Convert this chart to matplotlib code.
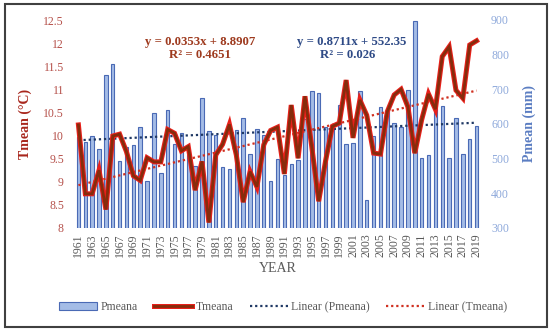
import numpy as np
import matplotlib
matplotlib.use("Agg")
import matplotlib.pyplot as plt
import matplotlib.patheffects as pe
from matplotlib.patches import Rectangle

plt.rcParams['font.family'] = ['Liberation Serif', 'DejaVu Serif']

# data
years = list(range(1961, 2020))
pmean = [563, 549, 565, 527, 740, 773, 494, 535, 539, 592,
         435, 633, 458, 640, 543, 574, 510, 480, 674, 581,
         567, 477, 469, 583, 616, 513, 586, 568, 437, 499,
         452, 485, 497, 615, 696, 689, 590, 597, 655, 542,
         546, 694, 381, 565, 648, 640, 602, 592, 698, 898,
         501, 512, 645, 652, 502, 617, 513, 556, 594]
tmean = [10.23, 8.74, 8.74, 9.25, 8.40, 9.99, 10.03, 9.65, 9.13, 9.03,
         9.52, 9.43, 9.43, 10.13, 10.05, 9.67, 9.76, 8.82, 9.44, 8.12,
         9.58, 9.81, 10.24, 9.58, 8.56, 9.22, 8.89, 9.80, 10.11, 10.18,
         9.17, 10.66, 9.51, 10.85, 9.75, 8.58, 9.45, 10.20, 10.27, 11.20,
         9.95, 10.77, 10.44, 9.62, 9.60, 10.52, 10.88, 11.00, 10.62, 9.62,
         10.34, 10.90, 10.57, 11.71, 11.92, 10.98, 10.81, 11.96, 12.05]

# trendline coefficients as printed on the chart
p_slope, p_icpt = 0.8711, 552.35
t_slope, t_icpt = 0.0353, 8.8907
eq_p = ["y = 0.8711x + 552.35", "R² = 0.026"]
eq_t = ["y = 0.0353x + 8.8907", "R² = 0.4651"]

t_ticks = [8, 8.5, 9, 9.5, 10, 10.5, 11, 11.5, 12, 12.5]
p_ticks = [300, 400, 500, 600, 700, 800, 900]

fig = plt.figure(figsize=(5.5, 3.33), dpi=100)
ax = fig.add_axes([75/550, 105/333, 405/550, 208/333])
axp = ax.twinx()
ax.set_zorder(axp.get_zorder() + 1)
ax.patch.set_visible(False)

idx = np.arange(1, len(years) + 1)

bars = axp.bar(years, pmean, width=0.5, color='#A4BCE6', edgecolor='#4A6AB5',
               linewidth=0.8, label='Pmeana', zorder=2)
ptrend, = axp.plot(years, p_slope * idx + p_icpt, color='#1F3864', lw=1.6,
                   ls=(0, (1, 1.3)), label='Linear (Pmeana)', zorder=3)

tline, = ax.plot(years, tmean, color='#862C0C', lw=2.0, solid_joinstyle='miter',
                 path_effects=[pe.Stroke(linewidth=3.6, foreground='#E8201A'), pe.Normal()],
                 label='Tmeana', zorder=3)
ttrend, = ax.plot(years, t_slope * idx + t_icpt, color='#D03020', lw=1.6,
                  ls=(0, (1, 1.3)), label='Linear (Tmeana)', zorder=2)

ax.set_xlim(1960.5, 2019.5)
ax.set_ylim(8, 12.5)
axp.set_ylim(300, 900)
ax.set_yticks(t_ticks)
ax.set_yticklabels([f"{v:g}" for v in t_ticks])
axp.set_yticks(p_ticks)
ax.set_xticks(years[::2])
ax.set_xticklabels([str(y) for y in years[::2]], rotation=90)

for a in (ax, axp):
    for s in a.spines.values():
        s.set_visible(False)
ax.tick_params(axis='x', length=0, pad=4, labelsize=8.5, labelcolor='#595959')
ax.tick_params(axis='y', length=0, pad=8, labelsize=8.5, labelcolor='#B5504A')
axp.tick_params(axis='y', length=0, pad=8, labelsize=8.5, labelcolor='#8EA9DB')

ax.set_ylabel('Tmean (°C)', fontsize=10, fontweight='bold', color='#A8261C')
ax.yaxis.set_label_coords(-0.106, 0.5)
axp.set_ylabel('Pmean (mm)', fontsize=10, fontweight='bold', color='#5B7DC2')
axp.yaxis.set_label_coords(1.104, 0.5)
ax.set_xlabel('YEAR', fontsize=10, color='#595959', va='center')
ax.xaxis.set_label_coords(0.5, -0.197)

fig.text(200/550, 1 - 42/333, eq_t[0], ha='center', va='center',
         fontsize=9.2, fontweight='bold', color='#9E3A1E')
fig.text(200/550, 1 - 55/333, eq_t[1], ha='center', va='center',
         fontsize=9.2, fontweight='bold', color='#9E3A1E')
fig.text(352/550, 1 - 42/333, eq_p[0], ha='center', va='center',
         fontsize=9.2, fontweight='bold', color='#2E4A86')
fig.text(348/550, 1 - 55/333, eq_p[1], ha='center', va='center',
         fontsize=9.2, fontweight='bold', color='#2E4A86')

leg = fig.legend([bars, tline, ptrend, ttrend],
                 ['Pmeana', 'Tmeana', 'Linear (Pmeana)', 'Linear (Tmeana)'],
                 loc='center', bbox_to_anchor=(283/550, 1 - 307/333),
                 ncol=4, frameon=False, fontsize=8.5, handlelength=3.2,
                 handletextpad=0.3, columnspacing=1.4)
for t in leg.get_texts():
    t.set_color('#595959')

fig.patches.append(Rectangle((5/550, 6/333), 542/550, 323/333, transform=fig.transFigure,
                             fill=False, ec='#404040', lw=1.5))

fig.savefig('out.png', dpi=100)
